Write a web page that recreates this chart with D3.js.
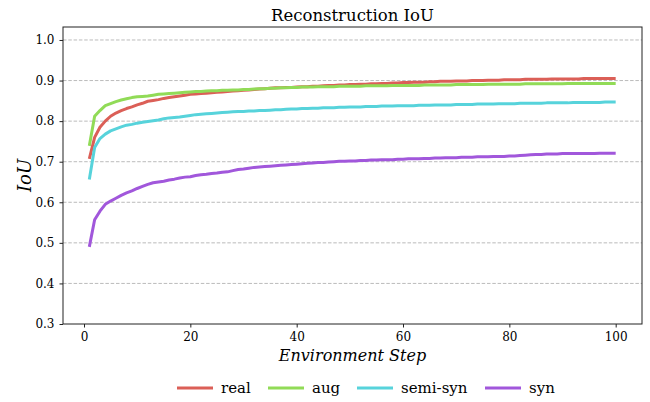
<!DOCTYPE html>
<html>
<head>
<meta charset="utf-8">
<script src="https://cdn.jsdelivr.net/npm/d3@7/dist/d3.min.js"></script>
<style>
  html, body { margin: 0; padding: 0; background: #fff; }
  svg { display: block; }
  svg text { font-family: "DejaVu Serif", "Liberation Serif", serif !important; fill: #000; }
</style>
</head>
<body>
<svg id="chart" width="650" height="402"></svg>
<script>
// Reconstruction IoU per environment step, one series per training set
const seriesNames = ["real", "aug", "semi-syn", "syn"];
const seriesColors = ["#db5f57", "#91db57", "#57d3db", "#a157db"];

const real = [
  0.707, 0.760, 0.785, 0.800, 0.812, 0.820, 0.826, 0.831, 0.835, 0.840,
  0.844, 0.849, 0.851, 0.853, 0.856, 0.858, 0.860, 0.862, 0.864, 0.866,
  0.867, 0.868, 0.869, 0.870, 0.871, 0.872, 0.873, 0.874, 0.875, 0.876,
  0.877, 0.878, 0.879, 0.880, 0.881, 0.882, 0.882, 0.883, 0.883, 0.884,
  0.885, 0.885, 0.886, 0.886, 0.887, 0.888, 0.888, 0.889, 0.889, 0.890,
  0.890, 0.891, 0.891, 0.892, 0.892, 0.893, 0.893, 0.894, 0.894, 0.895,
  0.895, 0.896, 0.896, 0.896, 0.897, 0.897, 0.898, 0.898, 0.898, 0.899,
  0.899, 0.899, 0.900, 0.900, 0.900, 0.901, 0.901, 0.901, 0.902, 0.902,
  0.902, 0.902, 0.903, 0.903, 0.903, 0.903, 0.903, 0.904, 0.904, 0.904,
  0.904, 0.904, 0.904, 0.905, 0.905, 0.905, 0.905, 0.905, 0.905, 0.905
];

const aug = [
  0.739, 0.812, 0.826, 0.838, 0.843, 0.848, 0.852, 0.855, 0.858, 0.860,
  0.861, 0.862, 0.864, 0.866, 0.867, 0.868, 0.869, 0.870, 0.871, 0.872,
  0.873, 0.873, 0.874, 0.875, 0.875, 0.876, 0.876, 0.877, 0.877, 0.878,
  0.878, 0.879, 0.880, 0.880, 0.881, 0.881, 0.882, 0.882, 0.883, 0.883,
  0.884, 0.884, 0.884, 0.885, 0.885, 0.885, 0.885, 0.886, 0.886, 0.886,
  0.886, 0.886, 0.887, 0.887, 0.887, 0.887, 0.887, 0.888, 0.888, 0.888,
  0.888, 0.888, 0.888, 0.889, 0.889, 0.889, 0.889, 0.889, 0.889, 0.890,
  0.890, 0.890, 0.890, 0.890, 0.890, 0.891, 0.891, 0.891, 0.891, 0.891,
  0.891, 0.891, 0.892, 0.892, 0.892, 0.892, 0.892, 0.892, 0.892, 0.892,
  0.893, 0.893, 0.893, 0.893, 0.893, 0.893, 0.893, 0.893, 0.893, 0.893
];

const semiSyn = [
  0.656, 0.735, 0.757, 0.768, 0.776, 0.781, 0.786, 0.790, 0.792, 0.795,
  0.797, 0.799, 0.801, 0.803, 0.806, 0.808, 0.809, 0.810, 0.812, 0.814,
  0.816, 0.817, 0.818, 0.819, 0.820, 0.821, 0.822, 0.823, 0.824, 0.824,
  0.825, 0.825, 0.826, 0.826, 0.827, 0.828, 0.828, 0.829, 0.830, 0.830,
  0.831, 0.831, 0.832, 0.832, 0.833, 0.833, 0.833, 0.834, 0.834, 0.835,
  0.835, 0.835, 0.836, 0.836, 0.836, 0.837, 0.837, 0.837, 0.838, 0.838,
  0.838, 0.838, 0.839, 0.839, 0.839, 0.840, 0.840, 0.840, 0.840, 0.841,
  0.841, 0.841, 0.841, 0.842, 0.842, 0.842, 0.842, 0.843, 0.843, 0.843,
  0.843, 0.844, 0.844, 0.844, 0.844, 0.844, 0.845, 0.845, 0.845, 0.845,
  0.845, 0.846, 0.846, 0.846, 0.846, 0.846, 0.846, 0.847, 0.847, 0.847
];

const syn = [
  0.490, 0.557, 0.578, 0.595, 0.603, 0.610, 0.617, 0.623, 0.628, 0.634,
  0.639, 0.644, 0.648, 0.650, 0.652, 0.655, 0.657, 0.660, 0.662, 0.663,
  0.666, 0.668, 0.669, 0.671, 0.672, 0.674, 0.675, 0.678, 0.681, 0.682,
  0.684, 0.686, 0.687, 0.688, 0.689, 0.690, 0.691, 0.692, 0.693, 0.694,
  0.695, 0.696, 0.697, 0.698, 0.698, 0.699, 0.700, 0.701, 0.701, 0.702,
  0.702, 0.703, 0.703, 0.704, 0.704, 0.705, 0.705, 0.705, 0.706, 0.706,
  0.707, 0.707, 0.707, 0.708, 0.708, 0.709, 0.709, 0.710, 0.710, 0.710,
  0.711, 0.711, 0.711, 0.712, 0.712, 0.712, 0.713, 0.713, 0.713, 0.714,
  0.714, 0.715, 0.716, 0.717, 0.718, 0.718, 0.719, 0.719, 0.719, 0.720,
  0.720, 0.720, 0.720, 0.720, 0.720, 0.720, 0.721, 0.721, 0.721, 0.721
];

const xTicks = [0, 20, 40, 60, 80, 100];
const yTicks = [0.3, 0.4, 0.5, 0.6, 0.7, 0.8, 0.9, 1.0];

const seriesValues = [real, aug, semiSyn, syn];

const svg = d3.select("#chart");
const margin = { top: 27, right: 8, bottom: 78, left: 63 };
const W = 650, H = 402;
const pw = W - margin.left - margin.right;
const ph = H - margin.top - margin.bottom;

const x = d3.scaleLinear().domain([-3.95, 104.95]).range([margin.left, margin.left + pw]);
const y = d3.scaleLinear().domain([0.3, 1.032]).range([margin.top + ph, margin.top]);

// dashed horizontal grid
svg.append("g")
  .selectAll("line")
  .data(yTicks.filter(v => v > 0.3))
  .join("line")
  .attr("x1", margin.left).attr("x2", margin.left + pw)
  .attr("y1", d => y(d)).attr("y2", d => y(d))
  .attr("stroke", "#b3b3b3")
  .attr("stroke-width", 0.9)
  .attr("stroke-dasharray", "3.5,1.8");

// series lines
const line = d3.line()
  .x((d, i) => x(i + 1))
  .y(d => y(d));

svg.append("g")
  .selectAll("path")
  .data(seriesValues)
  .join("path")
  .attr("d", d => line(d))
  .attr("fill", "none")
  .attr("stroke", (d, i) => seriesColors[i])
  .attr("stroke-width", 3)
  .attr("stroke-linejoin", "round");

// frame
svg.append("rect")
  .attr("x", margin.left).attr("y", margin.top)
  .attr("width", pw).attr("height", ph)
  .attr("fill", "none")
  .attr("stroke", "#222")
  .attr("stroke-width", 1);

// axes
const xAxis = svg.append("g")
  .attr("transform", `translate(0,${margin.top + ph})`)
  .call(d3.axisBottom(x).tickValues(xTicks).tickFormat(d3.format("d")).tickSizeOuter(0).tickSize(3.5).tickPadding(5));
const yAxis = svg.append("g")
  .attr("transform", `translate(${margin.left},0)`)
  .call(d3.axisLeft(y).tickValues(yTicks).tickFormat(d3.format(".1f")).tickSizeOuter(0).tickSize(3.5).tickPadding(5));

[xAxis, yAxis].forEach(g => {
  g.attr("font-family", null);
  g.select(".domain").remove();
  g.selectAll(".tick line").attr("stroke", "#222");
  g.selectAll(".tick text")
    .style("font-size", "12px")
    .attr("fill", "#111");
});

// title and axis labels
svg.append("text")
  .attr("x", margin.left + pw / 2).attr("y", 21)
  .attr("text-anchor", "middle")
  .attr("font-size", 16.5)
  .text("Reconstruction IoU");

svg.append("text")
  .attr("x", margin.left + pw / 2).attr("y", 361)
  .attr("text-anchor", "middle")
  .attr("font-size", 16)
  .attr("font-style", "italic")
  .text("Environment Step");

svg.append("text")
  .attr("transform", `translate(31,${margin.top + ph / 2}) rotate(-90)`)
  .attr("text-anchor", "middle")
  .attr("font-size", 18)
  .attr("font-style", "italic")
  .text("IoU");

// legend along the bottom
const legendX = [177, 268, 357, 485];
const legend = svg.append("g");
seriesNames.forEach((name, i) => {
  const g = legend.append("g").attr("transform", `translate(${legendX[i]},388)`);
  g.append("line")
    .attr("x1", 0).attr("x2", 36)
    .attr("y1", 0).attr("y2", 0)
    .attr("stroke", seriesColors[i])
    .attr("stroke-width", 3);
  g.append("text")
    .attr("x", 44).attr("y", 5)
    .attr("font-size", 15)
    .text(name);
});
</script>
</body>
</html>
